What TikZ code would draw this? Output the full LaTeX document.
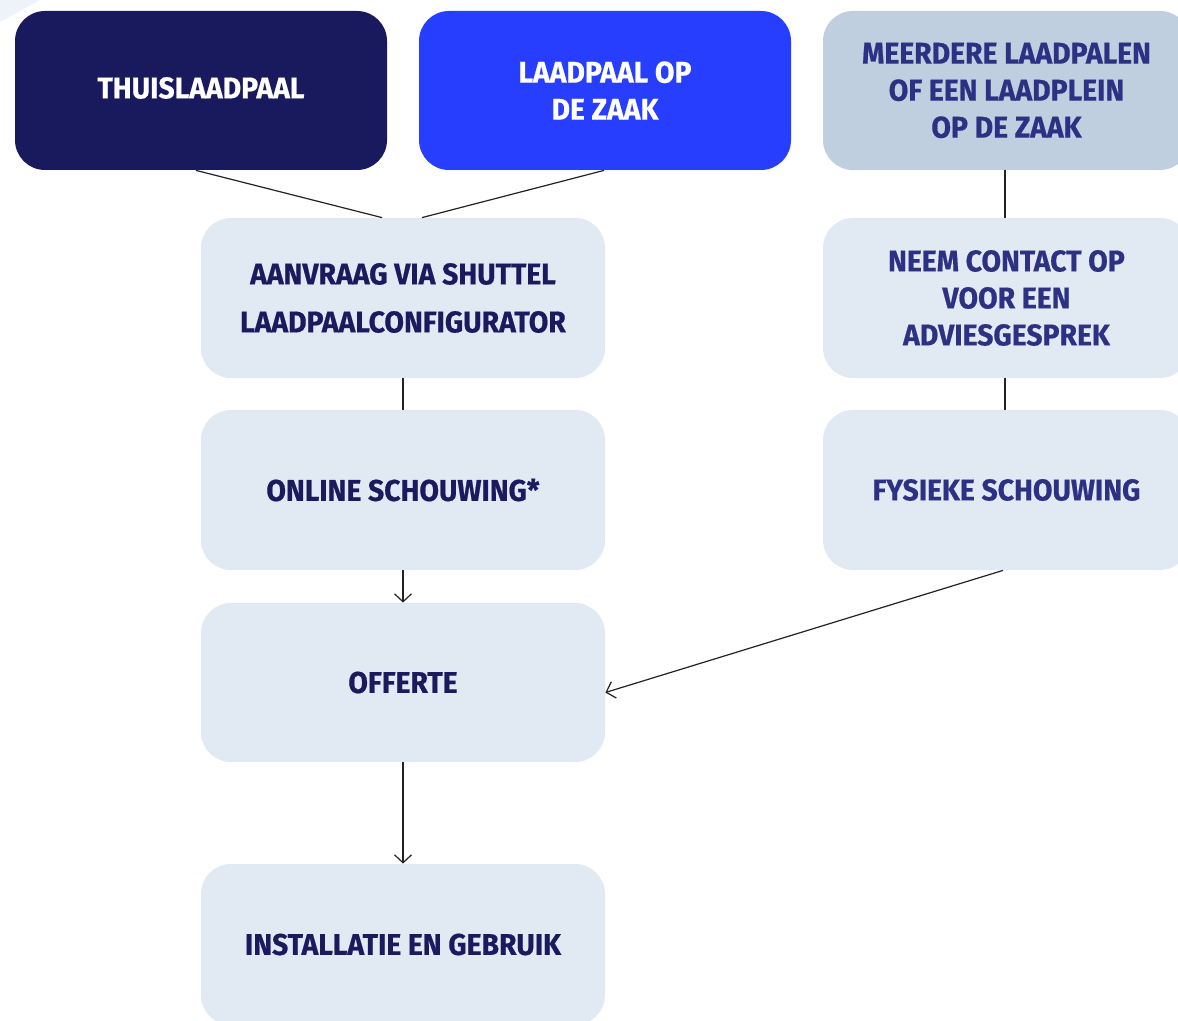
\documentclass[tikz,border=0pt]{standalone}
\usepackage{fontspec}
\setmainfont{Fira Sans}[UprightFont=* Bold, FakeStretch=0.945, FakeBold=0.6]
\usetikzlibrary{arrows.meta,calc}
\definecolor{navy}{HTML}{19195E}
\definecolor{brightblue}{HTML}{283EFF}
\definecolor{steel}{HTML}{BFCFE0}
\definecolor{pale}{HTML}{E1EAF3}
\definecolor{txtdark}{HTML}{1B1A5F}
\definecolor{txtmid}{HTML}{2D3184}
\definecolor{linec}{HTML}{222222}
\begin{document}
\begin{tikzpicture}[x=0.5pt,y=-0.5pt,
  box/.style={rectangle, rounded corners=15pt, inner sep=0pt, align=center,
    minimum width=202pt, minimum height=80pt,
    font=\fontsize{15}{18.5}\selectfont},
  topbox/.style={box, minimum width=186pt, minimum height=79.5pt},
  rbox/.style={box, minimum width=183.5pt},
  conn/.style={draw=linec, line width=0.6pt},
  arr/.style={conn, -{Straight Barb[length=4pt,width=8.5pt,line width=0.6pt]}}]
\useasboundingbox (0,0) rectangle (1178,1021);
\clip (0,0) rectangle (1178,1021);
\fill[white] (0,0) rectangle (1178,1021);
\fill[pale!60!white] (0,0) -- (40,0) -- (0,22) -- cycle;
% top row
\node[topbox, fill=navy, text=white] (thuis) at (201,90.5) {};
\node[text=white, font=\fontsize{15}{18.5}\selectfont, inner sep=0pt] (thuistxt) at (201,88) {THUISLAADPAAL};
\node[topbox, fill=brightblue, text=white] (zaak) at (605,90.5) {LAADPAAL OP\\DE ZAAK};
\node[rbox, minimum height=79.5pt, fill=steel, text=txtmid] (meer) at (1006.5,90.5) {MEERDERE LAADPALEN\\OF EEN LAADPLEIN\\OP DE ZAAK};
% left column
\node[box, fill=pale, text=txtdark] (aan) at (403,298) {AANVRAAG VIA SHUTTEL\\[5.5pt]LAADPAALCONFIGURATOR};
\node[box, fill=pale, text=txtdark] (online) at (403,490) {ONLINE SCHOUWING*};
\node[box, minimum height=79.5pt, fill=pale, text=txtdark] (off) at (403,682.5) {OFFERTE};
\node[box, minimum height=80.5pt, fill=pale, text=txtdark] (inst) at (403,944.5) {INSTALLATIE EN GEBRUIK};
% right column
\node[rbox, fill=pale, text=txtmid] (neem) at (1006.5,298) {NEEM CONTACT OP\\VOOR EEN\\ADVIESGESPREK};
\node[rbox, fill=pale, text=txtmid] (fys) at (1006.5,490) {FYSIEKE SCHOUWING};
% connectors
\draw[conn] ($(thuis.south)+(-5,0)$) -- ($(aan.north)+(-21,0)$);
\draw[conn] ($(zaak.south)+(-1,0)$) -- ($(aan.north)+(19,0)$);
\draw[conn] (aan.south) -- (online.north);
\draw[arr] (online.south) -- (off.north);
\draw[arr] (off.south) -- (inst.north);
\draw[conn] ($(meer.south)+(-1.5,0)$) -- ($(neem.north)+(-1.5,0)$);
\draw[conn] ($(neem.south)+(-1.5,0)$) -- ($(fys.north)+(-1.5,0)$);
\draw[arr] ($(fys.south)+(-3.5,0)$) -- ($(off.east)+(0,10)$);
\end{tikzpicture}
\end{document}
